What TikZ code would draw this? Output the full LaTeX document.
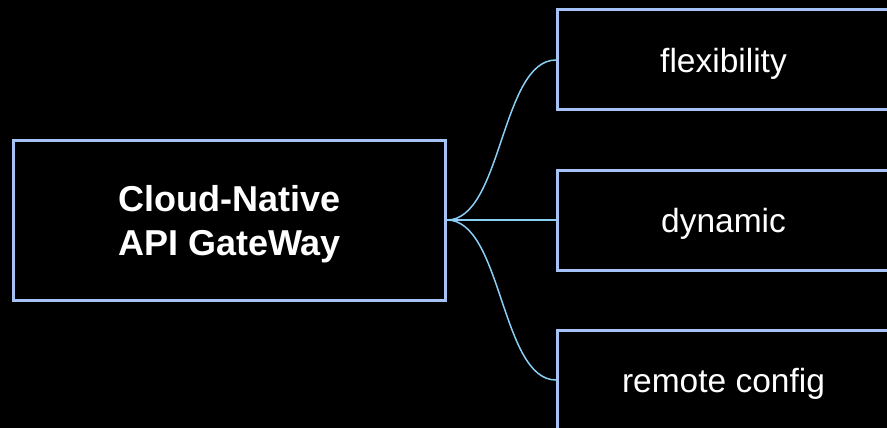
\documentclass[tikz,border=0pt]{standalone}
\usepackage{fontspec}
\setmainfont{Liberation Sans}
\definecolor{boxline}{RGB}{164,194,244}
\definecolor{linkline}{RGB}{138,206,245}
\newcommand{\lowertext}[2]{\raisebox{-#1}[\height][\depth]{#2}}
\begin{document}
\begin{tikzpicture}[x=1pt,y=-1pt,
  rootbox/.style={draw=boxline,line width=3pt,rectangle,minimum width=432pt,minimum height=160pt,text=white,font=\fontsize{36}{44}\selectfont\bfseries,inner sep=0pt},
  leafbox/.style={draw=boxline,line width=3pt,rectangle,minimum width=332pt,minimum height=100pt,text=white,font=\fontsize{33.5}{40}\selectfont,inner sep=0pt},
  link/.style={draw=linkline,line width=1.5pt}]
\fill[black] (0,0) rectangle (887,428);
\useasboundingbox (0,0) rectangle (887,428);
\begin{scope}
\clip (0,0) rectangle (887,428);
\node[rootbox] (root) at (229.5,220) {\lowertext{5pt}{\begin{tabular}{@{}c@{}}Cloud-Native\\API GateWay\end{tabular}}};
\node[leafbox] (flex) at (723.5,60) {\lowertext{4pt}{flexibility}};
\node[leafbox] (dyn) at (723.5,220) {\lowertext{4pt}{dynamic}};
\node[leafbox] (rem) at (723.5,380) {\lowertext{4pt}{remote config}};
\draw[link] (root.east) .. controls +(55,0) and +(-55,0) .. (flex.west);
\draw[link] (root.east) -- (dyn.west);
\draw[link] (root.east) .. controls +(55,0) and +(-55,0) .. (rem.west);
\end{scope}
\end{tikzpicture}
\end{document}
